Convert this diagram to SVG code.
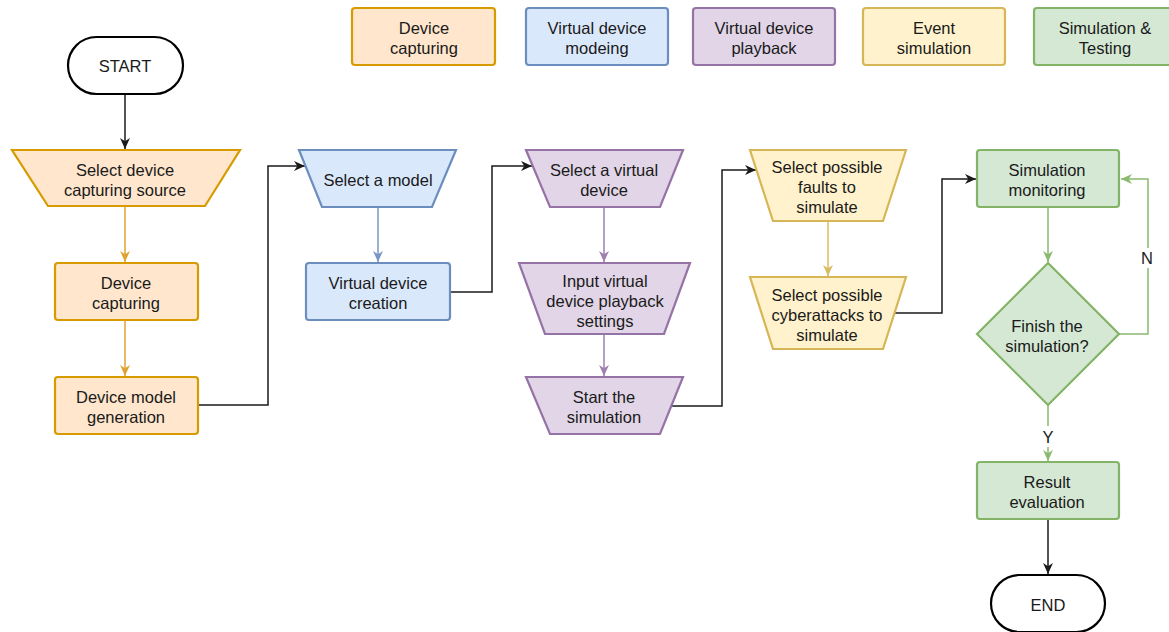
<svg xmlns="http://www.w3.org/2000/svg" width="1169" height="632" viewBox="0 0 1169 632">
  <defs>
    <style>
      text { font-family: "Liberation Sans", Arial, Helvetica, sans-serif; font-size: 16.5px; fill: #1a1a1a; text-anchor: middle; }
      .term { fill: #ffffff; stroke: #000000; stroke-width: 2.2; }
      .org { fill: #ffe6cc; stroke: #d79b00; stroke-width: 2.2; }
      .blu { fill: #dae8fc; stroke: #6c8ebf; stroke-width: 2.2; }
      .pur { fill: #e1d5e7; stroke: #9673a6; stroke-width: 2.2; }
      .yel { fill: #fff2cc; stroke: #d6b656; stroke-width: 2.2; }
      .grn { fill: #d5e8d4; stroke: #82b366; stroke-width: 2.2; }
      .edge { fill: none; stroke-width: 1.5; }
      .e-blk { stroke: #1a1a1a; }
      .e-org { stroke: #dea433; }
      .e-blu { stroke: #7896c6; }
      .e-pur { stroke: #9e7fae; }
      .e-yel { stroke: #d9bc62; }
      .e-grn { stroke: #8ab970; }
    </style>
    <marker id="a-blk" viewBox="0 0 10 10" refX="10" refY="5" markerWidth="11" markerHeight="11" markerUnits="userSpaceOnUse" orient="auto">
      <path d="M0,0.5 L10,5 L0,9.5 L3,5 z" fill="#1a1a1a"/>
    </marker>
    <marker id="a-org" viewBox="0 0 10 10" refX="10" refY="5" markerWidth="11" markerHeight="11" markerUnits="userSpaceOnUse" orient="auto">
      <path d="M0,0.5 L10,5 L0,9.5 L3,5 z" fill="#dea433"/>
    </marker>
    <marker id="a-blu" viewBox="0 0 10 10" refX="10" refY="5" markerWidth="11" markerHeight="11" markerUnits="userSpaceOnUse" orient="auto">
      <path d="M0,0.5 L10,5 L0,9.5 L3,5 z" fill="#7896c6"/>
    </marker>
    <marker id="a-pur" viewBox="0 0 10 10" refX="10" refY="5" markerWidth="11" markerHeight="11" markerUnits="userSpaceOnUse" orient="auto">
      <path d="M0,0.5 L10,5 L0,9.5 L3,5 z" fill="#9e7fae"/>
    </marker>
    <marker id="a-yel" viewBox="0 0 10 10" refX="10" refY="5" markerWidth="11" markerHeight="11" markerUnits="userSpaceOnUse" orient="auto">
      <path d="M0,0.5 L10,5 L0,9.5 L3,5 z" fill="#d9bc62"/>
    </marker>
    <marker id="a-grn" viewBox="0 0 10 10" refX="10" refY="5" markerWidth="11" markerHeight="11" markerUnits="userSpaceOnUse" orient="auto">
      <path d="M0,0.5 L10,5 L0,9.5 L3,5 z" fill="#8ab970"/>
    </marker>
  </defs>

  <rect width="1169" height="632" fill="#ffffff"/>

  <!-- Legend -->
  <g id="legend">
    <g id="legend-capturing">
      <rect class="org" x="352" y="8" width="143" height="57" rx="3"/>
      <text x="424" y="34">Device</text><text x="424" y="54">capturing</text>
    </g>
    <g id="legend-modeling">
      <rect class="blu" x="526" y="8" width="142" height="57" rx="3"/>
      <text x="597" y="34">Virtual device</text><text x="597" y="54">modeing</text>
    </g>
    <g id="legend-playback">
      <rect class="pur" x="693" y="8" width="142" height="57" rx="3"/>
      <text x="764" y="34">Virtual device</text><text x="764" y="54">playback</text>
    </g>
    <g id="legend-event">
      <rect class="yel" x="863" y="8" width="142" height="57" rx="3"/>
      <text x="934" y="34">Event</text><text x="934" y="54">simulation</text>
    </g>
    <g id="legend-testing">
      <rect class="grn" x="1034" y="8" width="142" height="57" rx="3"/>
      <text x="1105" y="34">Simulation &amp;</text><text x="1105" y="54">Testing</text>
    </g>
  </g>

  <!-- Connectors -->
  <g id="connectors">
    <path class="edge e-blk" d="M125,95 L125,149" marker-end="url(#a-blk)"/>
    <path class="edge e-org" d="M125,206 L125,262" marker-end="url(#a-org)"/>
    <path class="edge e-org" d="M125,320 L125,376" marker-end="url(#a-org)"/>
    <path class="edge e-blk" d="M198,405 L268,405 L268,166 L305,166" marker-end="url(#a-blk)"/>
    <path class="edge e-blu" d="M378,207 L378,262" marker-end="url(#a-blu)"/>
    <path class="edge e-blk" d="M450,292 L492,292 L492,166 L532,166" marker-end="url(#a-blk)"/>
    <path class="edge e-pur" d="M604,207 L604,262" marker-end="url(#a-pur)"/>
    <path class="edge e-pur" d="M604,334 L604,376" marker-end="url(#a-pur)"/>
    <path class="edge e-blk" d="M671,406 L722,406 L722,170 L756,170" marker-end="url(#a-blk)"/>
    <path class="edge e-yel" d="M828,221 L828,276" marker-end="url(#a-yel)"/>
    <path class="edge e-blk" d="M895,313 L942,313 L942,179 L976,179" marker-end="url(#a-blk)"/>
    <path class="edge e-grn" d="M1048,207 L1048,262" marker-end="url(#a-grn)"/>
    <path class="edge e-grn" d="M1119,334 L1148,334 L1148,179 L1121,179" marker-end="url(#a-grn)"/>
    <path class="edge e-grn" d="M1048,405 L1048,426 M1048,447 L1048,461" marker-end="url(#a-grn)"/>
    <path class="edge e-blk" d="M1048,519 L1048,574" marker-end="url(#a-blk)"/>
    <rect x="1138" y="248" width="20" height="20" fill="#ffffff"/>
    <text x="1147" y="264">N</text>
    <text x="1048" y="443">Y</text>
  </g>

  <!-- Nodes -->
  <g id="start">
    <rect class="term" x="68" y="37" width="115" height="57" rx="28.5"/>
    <text x="125" y="72">START</text>
  </g>
  <g id="select-source">
    <polygon class="org" points="12,150 240,150 205,206 48,206"/>
    <text x="125" y="176">Select device</text><text x="125" y="196">capturing source</text>
  </g>
  <g id="device-capturing">
    <rect class="org" x="55" y="263" width="143" height="57" rx="3"/>
    <text x="126" y="289">Device</text><text x="126" y="309">capturing</text>
  </g>
  <g id="model-generation">
    <rect class="org" x="55" y="377" width="143" height="57" rx="3"/>
    <text x="126" y="403">Device model</text><text x="126" y="423">generation</text>
  </g>
  <g id="select-model">
    <polygon class="blu" points="299,150 456,150 432,207 322,207"/>
    <text x="378" y="186">Select a model</text>
  </g>
  <g id="virtual-device-creation">
    <rect class="blu" x="306" y="263" width="144" height="57" rx="3"/>
    <text x="378" y="289">Virtual device</text><text x="378" y="309">creation</text>
  </g>
  <g id="select-virtual-device">
    <polygon class="pur" points="526,150 683,150 660,207 550,207"/>
    <text x="604" y="176">Select a virtual</text><text x="604" y="196">device</text>
  </g>
  <g id="playback-settings">
    <polygon class="pur" points="519,263 690,263 664,334 545,334"/>
    <text x="605" y="287">Input virtual</text><text x="605" y="307">device playback</text><text x="605" y="327">settings</text>
  </g>
  <g id="start-simulation">
    <polygon class="pur" points="526,377 683,377 660,434 550,434"/>
    <text x="604" y="403">Start the</text><text x="604" y="423">simulation</text>
  </g>
  <g id="select-faults">
    <polygon class="yel" points="750,150 906,150 883,221 773,221"/>
    <text x="827" y="173">Select possible</text><text x="827" y="193">faults to</text><text x="827" y="213">simulate</text>
  </g>
  <g id="select-cyberattacks">
    <polygon class="yel" points="750,277 906,277 883,349 773,349"/>
    <text x="827" y="301">Select possible</text><text x="827" y="321">cyberattacks to</text><text x="827" y="341">simulate</text>
  </g>
  <g id="simulation-monitoring">
    <rect class="grn" x="977" y="150" width="142" height="57" rx="3"/>
    <text x="1047" y="176">Simulation</text><text x="1047" y="196">monitoring</text>
  </g>
  <g id="finish-decision">
    <polygon class="grn" points="1048,263 1119,334 1048,405 977,334"/>
    <text x="1047" y="332">Finish the</text><text x="1047" y="352">simulation?</text>
  </g>
  <g id="result-evaluation">
    <rect class="grn" x="977" y="462" width="142" height="57" rx="3"/>
    <text x="1047" y="488">Result</text><text x="1047" y="508">evaluation</text>
  </g>
  <g id="end">
    <rect class="term" x="991" y="575" width="114" height="57" rx="28.5"/>
    <text x="1048" y="611">END</text>
  </g>
</svg>
